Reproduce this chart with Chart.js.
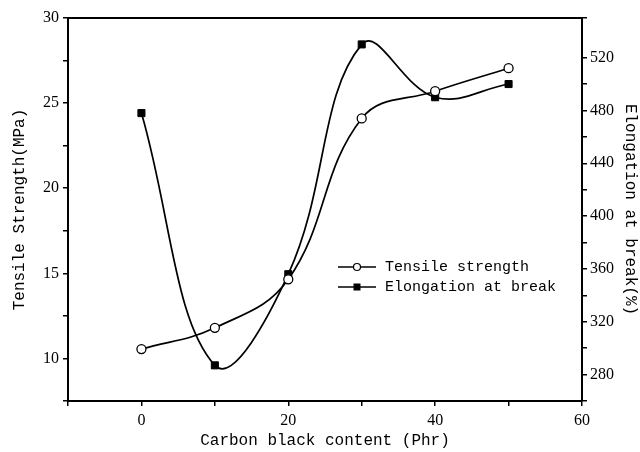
<!DOCTYPE html>
<html>
<head>
<meta charset="utf-8">
<script src="https://cdn.jsdelivr.net/npm/chart.js@4.4.0/dist/chart.umd.min.js"></script>
<style>
  html,body{margin:0;padding:0;background:#fff;}
</style>
</head>
<body>
<canvas id="chart" width="640" height="452"></canvas>
<script>
// ------ DATA ------
const content = [0, 10, 20, 30, 40, 50];               // Carbon black content (Phr)
const tensile = [10.55, 11.8, 14.65, 24.1, 25.7, 27.05]; // MPa
const elongation = [478, 287, 356, 530, 490, 500];       // %
const xLabels = [0, 20, 40, 60];
const leftLabels = [10, 15, 20, 25, 30];
const rightLabels = [280, 320, 360, 400, 440, 480, 520];

const monoFont = "'Liberation Mono', 'DejaVu Sans Mono', monospace";
const tickFont = {family: "'Liberation Serif', 'DejaVu Serif', serif", size: 16};

// legend drawn inside the plot, like the original figure
const innerLegend = {
  id: 'innerLegend',
  afterDraw(chart, args, opts){
    const ctx = chart.ctx;
    const area = chart.chartArea;
    ctx.save();
    // top frame line
    ctx.strokeStyle = '#000'; ctx.lineWidth = 2;
    ctx.beginPath(); ctx.moveTo(area.left, area.top); ctx.lineTo(area.right, area.top); ctx.stroke();

    ctx.font = `15px ${monoFont}`;
    ctx.textBaseline = 'middle';
    chart.data.datasets.forEach((ds, i)=>{
      const y = opts.y + i*opts.gap;
      const cx = opts.x + opts.sample/2;
      ctx.strokeStyle = '#000'; ctx.lineWidth = 1.6;
      ctx.beginPath(); ctx.moveTo(opts.x, y); ctx.lineTo(opts.x + opts.sample, y); ctx.stroke();
      if(ds.pointStyle === 'rect'){
        ctx.fillStyle = '#000';
        ctx.fillRect(cx-3.5, y-3.5, 7, 7);
      } else {
        ctx.fillStyle = '#fff'; ctx.lineWidth = 1.2;
        ctx.beginPath(); ctx.arc(cx, y, 3.5, 0, Math.PI*2); ctx.fill(); ctx.stroke();
      }
      ctx.fillStyle = '#000';
      ctx.fillText(ds.label, opts.x + opts.sample + 9, y);
    });
    ctx.restore();
  }
};

const ctx = document.getElementById('chart').getContext('2d');
new Chart(ctx, {
  type: 'line',
  data: {
    datasets: [
      {
        label: 'Tensile strength',
        data: content.map((x,i)=>({x, y: tensile[i]})),
        yAxisID: 'y',
        borderColor: '#000', borderWidth: 1.7,
        pointStyle: 'circle', pointRadius: 4.5,
        pointBackgroundColor: '#fff', pointBorderColor: '#000', pointBorderWidth: 1.3,
        tension: 0.4, fill: false
      },
      {
        label: 'Elongation at break',
        data: content.map((x,i)=>({x, y: elongation[i]})),
        yAxisID: 'y2',
        borderColor: '#000', borderWidth: 1.7,
        pointStyle: 'rect', pointRadius: 5,
        pointBackgroundColor: '#000', pointBorderColor: '#000', pointBorderWidth: 1,
        tension: 0.4, fill: false
      }
    ]
  },
  options: {
    responsive: false,
    animation: false,
    devicePixelRatio: 1,
    layout: {padding: {top: 18, left: 0, right: 0, bottom: 0}},
    plugins: {
      legend: {display: false},
      tooltip: {enabled: false},
      innerLegend: {x: 338, y: 267, gap: 20, sample: 38}
    },
    scales: {
      x: {
        type: 'linear', position: 'bottom', min: -10, max: 60,
        afterFit(s){ s.height = 51; },
        ticks: {stepSize: 10, autoSkip: false, maxRotation: 0, padding: 5, color: '#000', font: tickFont,
          callback: v => xLabels.includes(v) ? v : ''},
        grid: {drawOnChartArea: false, tickLength: 5, color: '#000', lineWidth: 1.5},
        border: {color: '#000', width: 2},
        title: {display: true, text: 'Carbon black content (Phr)', color: '#000',
          font: {family: monoFont, size: 16}, padding: {top: 0, bottom: 2}}
      },
      y: {
        position: 'left', min: 7.5, max: 30,
        afterFit(s){ s.width = 68; },
        ticks: {stepSize: 2.5, autoSkip: false, padding: 4, color: '#000', font: tickFont,
          callback: v => leftLabels.includes(v) ? v : ''},
        grid: {drawOnChartArea: false, tickLength: 5, color: '#000', lineWidth: 1.5},
        border: {color: '#000', width: 2},
        title: {display: true, text: 'Tensile Strength(MPa)', color: '#000',
          font: {family: monoFont, size: 16}, padding: {top: 10, bottom: 0}}
      },
      y2: {
        position: 'right', min: 260, max: 550,
        afterFit(s){ s.width = 58; },
        ticks: {stepSize: 20, autoSkip: false, padding: 3, color: '#000', font: tickFont,
          callback: v => rightLabels.includes(v) ? v : ''},
        grid: {drawOnChartArea: false, tickLength: 5, color: '#000', lineWidth: 1.5},
        border: {color: '#000', width: 2},
        title: {display: true, text: 'Elongation at break(%)', color: '#000',
          font: {family: monoFont, size: 16}, padding: {top: 0, bottom: 0}}
      }
    }
  },
  plugins: [innerLegend]
});
</script>
</body>
</html>
